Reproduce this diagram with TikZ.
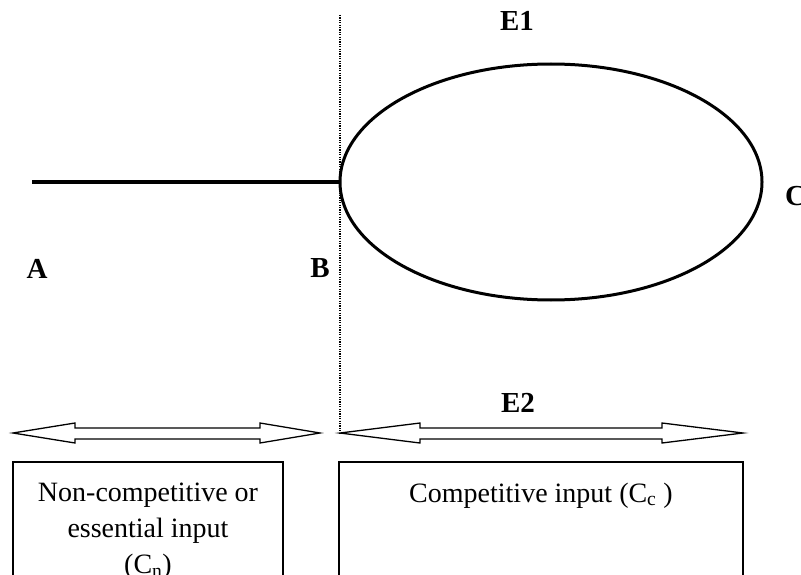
\documentclass[tikz,border=0pt]{standalone}
\usepackage{fontspec}
\setmainfont{Liberation Serif}
\usetikzlibrary{shapes.geometric}
\begin{document}
\begin{tikzpicture}[x=1pt,y=-1pt,
  lbl/.style={font=\fontsize{29}{34}\selectfont\bfseries, inner sep=0pt},
  txt/.style={font=\fontsize{28}{36}\selectfont, inner sep=0pt, align=center},
  hollowarrow/.style={draw=black, line width=1.3pt, fill=white, line join=miter},
  boxline/.style={draw=black, line width=1.3pt}]
\useasboundingbox (0,0) rectangle (801,575);
\clip (0,0) rectangle (801,575);
% dotted divider
\coordinate (dtop) at (340,15);
\coordinate (dbot) at (340,433);
\draw[line width=1.1pt, dash pattern=on 1.2pt off 1.2pt] (dtop) -- (dbot);
% ellipse and thick line
\node[ellipse, draw, line width=3pt, minimum width=422pt, minimum height=236pt, inner sep=0pt] (ell) at (551,182) {};
\coordinate (a0) at (32,182);
\draw[line width=4pt] (a0) -- (ell.west);
% labels
\node[lbl] (E1) at (517,21) {E1};
\node[lbl] (A) at (37,269) {A};
\node[lbl] (B) at (320,268) {B};
\node[lbl, anchor=west] (C) at (785,196) {C};
\node[lbl] (E2) at (518,403) {E2};
% double arrows
\draw[hollowarrow] (13,433) -- (75,423) -- (75,428) -- (260,428) -- (260,423) -- (320,433) -- (260,443) -- (260,439) -- (75,439) -- (75,443) -- cycle;
\draw[hollowarrow] (340,433) -- (420,423) -- (420,428) -- (662,428) -- (662,423) -- (743,433) -- (662,443) -- (662,439) -- (420,439) -- (420,443) -- cycle;
% boxes
\draw[boxline] (13,600) -- (13,462) -- (283,462) -- (283,600);
\draw[boxline] (339,600) -- (339,462) -- (743,462) -- (743,600);
\node[txt, anchor=north] (t1) at (148,483) {Non-competitive or\\essential input\\(C\textsubscript{n})};
\node[txt, anchor=base] (t2) at (541,502) {Competitive input (C\textsubscript{c} )};
\end{tikzpicture}
\end{document}
